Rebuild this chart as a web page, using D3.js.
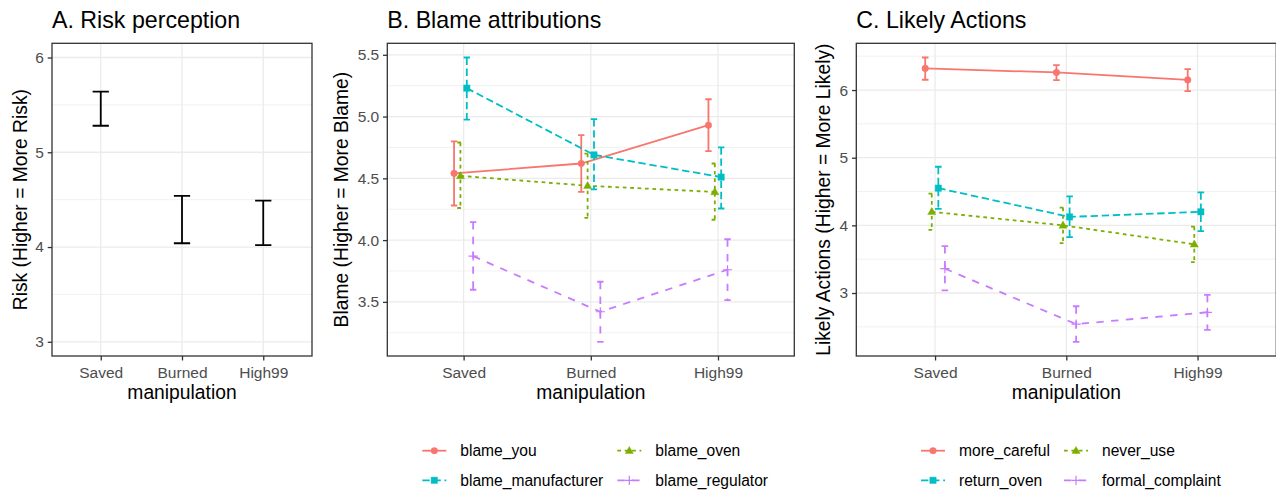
<!DOCTYPE html>
<html><head><meta charset="utf-8">
<script src="https://cdn.jsdelivr.net/npm/d3@7"></script>
<style>
body{margin:0;background:#fff}
svg{display:block}
text{font-family:"Liberation Sans",Arial,Helvetica,sans-serif}
</style>
</head><body>
<svg id="chart" width="1276" height="493"></svg>
<script>
// ---------------- data ----------------
const conditions = ["Saved", "Burned", "High99"];

// Panel A: risk perception (confidence intervals only)
const riskLower = [5.28, 4.04, 4.02];
const riskUpper = [5.64, 4.54, 4.49];
const riskTicks = [3, 4, 5, 6];
const riskLimits = [3, 6];

// Panel B: blame attributions
const blameSeries = ["blame_you", "blame_oven", "blame_manufacturer", "blame_regulator"];
const blameMean  = [[4.54, 4.62, 4.93], [4.52, 4.44, 4.39], [5.23, 4.69, 4.51], [3.87, 3.42, 3.76]];
const blameLower = [[4.28, 4.39, 4.72], [4.26, 4.18, 4.165], [4.976, 4.41, 4.256], [3.598, 3.177, 3.515]];
const blameUpper = [[4.80, 4.85, 5.14], [4.79, 4.70, 4.62], [5.478, 4.98, 4.751], [4.146, 3.663, 4.007]];
const blameTicks = [3.5, 4.0, 4.5, 5.0, 5.5];

// Panel C: likely actions
const actionSeries = ["more_careful", "never_use", "return_oven", "formal_complaint"];
const actionMean  = [[6.32, 6.26, 6.15], [4.20, 4.00, 3.72], [4.55, 4.125, 4.20], [3.36, 2.54, 2.715]];
const actionLower = [[6.152, 6.147, 5.985], [3.933, 3.737, 3.457], [4.243, 3.825, 3.914], [3.04, 2.279, 2.456]];
const actionUpper = [[6.481, 6.368, 6.309], [4.468, 4.262, 3.982], [4.866, 4.429, 4.488], [3.693, 2.804, 2.971]];
const actionTicks = [3, 4, 5, 6];

// ---------------- styles ----------------
const seriesColors = ["#F8766D", "#7CAE00", "#00BFC4", "#C77CFF"];
const seriesDash = [null, "3.7,3.7", "7.4,3.7", "7.4,7.4"];
const seriesShape = ["circle", "triangle", "square", "plus"];

const svg = d3.select("#chart");
const FONT_TICK = 15.5, FONT_AXIS = 19.3, FONT_TITLE = 23.2, FONT_LEG = 15.6;
const LW = 1.8;
const TOP = 43.3, BOTTOM = 356;

function shapePath(shape, cx, cy) {
  if (shape === "circle") {
    const r = 3.3;
    return `M${cx - r},${cy}a${r},${r} 0 1,0 ${2 * r},0a${r},${r} 0 1,0 ${-2 * r},0Z`;
  }
  if (shape === "triangle") {
    const s = 4.3;
    return `M${cx},${cy - s}L${cx + s * 0.95},${cy + s * 0.65}L${cx - s * 0.95},${cy + s * 0.65}Z`;
  }
  if (shape === "square") {
    const h = 3.2;
    return `M${cx - h},${cy - h}H${cx + h}V${cy + h}H${cx - h}Z`;
  }
  const a = 4.6;
  return `M${cx - a},${cy}H${cx + a}M${cx},${cy - a}V${cy + a}`;
}

function drawPoint(g, shape, cx, cy, color) {
  g.append("path").attr("d", shapePath(shape, cx, cy))
    .attr("fill", shape === "plus" ? "none" : color)
    .attr("stroke", color)
    .attr("stroke-width", shape === "plus" ? 1.2 : 0.4);
}

function makePanel(cfg) {
  const g = svg.append("g");
  const x = d3.scalePoint().domain(conditions).range([cfg.left, cfg.right]).padding(0.6);
  const step = x.step();
  const y = d3.scaleLinear().domain(cfg.domain).range([BOTTOM, TOP]);

  // grid
  const grid = g.append("g");
  cfg.minor.forEach(v => grid.append("line")
    .attr("x1", cfg.left).attr("x2", cfg.right).attr("y1", y(v)).attr("y2", y(v))
    .attr("stroke", "#EBEBEB").attr("stroke-width", 0.7));
  cfg.ticks.forEach(v => grid.append("line")
    .attr("x1", cfg.left).attr("x2", cfg.right).attr("y1", y(v)).attr("y2", y(v))
    .attr("stroke", "#EBEBEB").attr("stroke-width", 1.3));
  conditions.forEach(c => grid.append("line")
    .attr("x1", x(c)).attr("x2", x(c)).attr("y1", TOP).attr("y2", BOTTOM)
    .attr("stroke", "#EBEBEB").attr("stroke-width", 1.3));

  cfg.draw(g, x, y, step);

  // border
  g.append("rect").attr("x", cfg.left).attr("y", TOP)
    .attr("width", cfg.right - cfg.left).attr("height", BOTTOM - TOP)
    .attr("fill", "none").attr("stroke", "#333333").attr("stroke-width", 1.3);

  // axes
  const ax = g.append("g").attr("transform", `translate(${cfg.left},0)`)
    .call(d3.axisLeft(y).tickValues(cfg.ticks).tickFormat(cfg.fmt).tickSize(4.3).tickPadding(3.8).tickSizeOuter(0));
  ax.select(".domain").remove();
  ax.selectAll("line").attr("stroke", "#333333").attr("stroke-width", 1.3);
  ax.selectAll("text").attr("fill", "#4D4D4D").attr("font-size", FONT_TICK).attr("font-family", null);

  const bx = g.append("g").attr("transform", `translate(0,${BOTTOM})`)
    .call(d3.axisBottom(x).tickSize(4.5).tickPadding(6.2).tickSizeOuter(0));
  bx.select(".domain").remove();
  bx.selectAll("line").attr("stroke", "#333333").attr("stroke-width", 1.3);
  bx.selectAll("text").attr("fill", "#4D4D4D").attr("font-size", FONT_TICK).attr("font-family", null);

  // titles
  g.append("text").attr("x", (cfg.left + cfg.right) / 2).attr("y", 399)
    .attr("text-anchor", "middle").attr("font-size", FONT_AXIS).attr("fill", "#000")
    .text("manipulation");
  g.append("text").attr("transform", `translate(${cfg.ytitleX},${(TOP + BOTTOM) / 2}) rotate(-90)`)
    .attr("text-anchor", "middle").attr("font-size", FONT_AXIS).attr("fill", "#000")
    .text(cfg.ytitle);
  g.append("text").attr("x", cfg.left).attr("y", 28)
    .attr("font-size", FONT_TITLE).attr("fill", "#000").text(cfg.title);
}

function expandDomain(lows, highs) {
  const lo = d3.min(lows.flat()), hi = d3.max(highs.flat());
  const pad = (hi - lo) * 0.05;
  return [lo - pad, hi + pad];
}

function drawSeriesPanel(means, lowers, uppers) {
  return function (g, x, y, step) {
    const nS = means.length;
    const dodge = i => (i - (nS - 1) / 2) * (0.2 / nS) * step;
    const capHalf = (0.2 / nS) * step / 2;
    means.forEach((m, i) => {
      const color = seriesColors[i];
      const pts = conditions.map((c, j) => [x(c) + dodge(i), y(m[j])]);
      // line
      g.append("path").attr("d", d3.line()(pts)).attr("fill", "none")
        .attr("stroke", color).attr("stroke-width", LW)
        .attr("stroke-dasharray", seriesDash[i]);
      // error bars
      conditions.forEach((c, j) => {
        const cx = x(c) + dodge(i);
        const yT = y(uppers[i][j]), yB = y(lowers[i][j]);
        g.append("path")
          .attr("d", `M${cx - capHalf},${yT}H${cx + capHalf}M${cx},${yT}V${yB}M${cx - capHalf},${yB}H${cx + capHalf}`)
          .attr("fill", "none").attr("stroke", color).attr("stroke-width", LW)
          .attr("stroke-dasharray", seriesDash[i]);
      });
      // points
      pts.forEach(p => drawPoint(g, seriesShape[i], p[0], p[1], color));
    });
  };
}

function drawLegend(names, keyX, rowYs) {
  const g = svg.append("g");
  const textOff = 38;
  const tmp = g.append("g");
  const widths = names.map(n => {
    const t = tmp.append("text").attr("font-size", FONT_LEG).text(n);
    return t.node().getComputedTextLength();
  });
  tmp.remove();
  const col1W = Math.max(widths[0], widths[2]);
  const col2X = keyX + textOff + col1W + 14;
  names.forEach((n, i) => {
    const col = i % 2, row = Math.floor(i / 2);
    const kx = col === 0 ? keyX : col2X;
    const ky = rowYs[row];
    g.append("line").attr("x1", kx).attr("x2", kx + 24).attr("y1", ky).attr("y2", ky)
      .attr("stroke", seriesColors[i]).attr("stroke-width", LW)
      .attr("stroke-dasharray", seriesDash[i]);
    drawPoint(g, seriesShape[i], kx + 12, ky, seriesColors[i]);
    g.append("text").attr("x", kx + textOff).attr("y", ky).attr("dy", "0.35em")
      .attr("font-size", FONT_LEG).attr("fill", "#000").text(n);
  });
}

// ---------------- Panel A ----------------
makePanel({
  left: 52, right: 312,
  domain: [riskLimits[0] - 0.05 * (riskLimits[1] - riskLimits[0]), riskLimits[1] + 0.05 * (riskLimits[1] - riskLimits[0])],
  ticks: riskTicks, minor: [3.5, 4.5, 5.5], fmt: d3.format("d"),
  title: "A. Risk perception", ytitle: "Risk (Higher = More Risk)", ytitleX: 26.5,
  draw: function (g, x, y, step) {
    const half = 0.1 * step;
    conditions.forEach((c, j) => {
      const cx = x(c);
      g.append("path")
        .attr("d", `M${cx - half},${y(riskUpper[j])}H${cx + half}M${cx},${y(riskUpper[j])}V${y(riskLower[j])}M${cx - half},${y(riskLower[j])}H${cx + half}`)
        .attr("fill", "none").attr("stroke", "#000").attr("stroke-width", LW);
    });
  }
});

// ---------------- Panel B ----------------
makePanel({
  left: 387.3, right: 794.3,
  domain: expandDomain(blameLower, blameUpper),
  ticks: blameTicks, minor: [3.25, 3.75, 4.25, 4.75, 5.25], fmt: d3.format(".1f"),
  title: "B. Blame attributions", ytitle: "Blame (Higher = More Blame)", ytitleX: 348,
  draw: drawSeriesPanel(blameMean, blameLower, blameUpper)
});

// ---------------- Panel C ----------------
makePanel({
  left: 856.3, right: 1276.3,
  domain: expandDomain(actionLower, actionUpper),
  ticks: actionTicks, minor: [2.5, 3.5, 4.5, 5.5, 6.5], fmt: d3.format("d"),
  title: "C. Likely Actions", ytitle: "Likely Actions (Higher = More Likely)", ytitleX: 829.5,
  draw: drawSeriesPanel(actionMean, actionLower, actionUpper)
});

// ---------------- Legends ----------------
drawLegend(blameSeries, 422.3, [450.7, 480.3]);
drawLegend(actionSeries, 921, [450.7, 480.3]);
</script>
</body></html>
